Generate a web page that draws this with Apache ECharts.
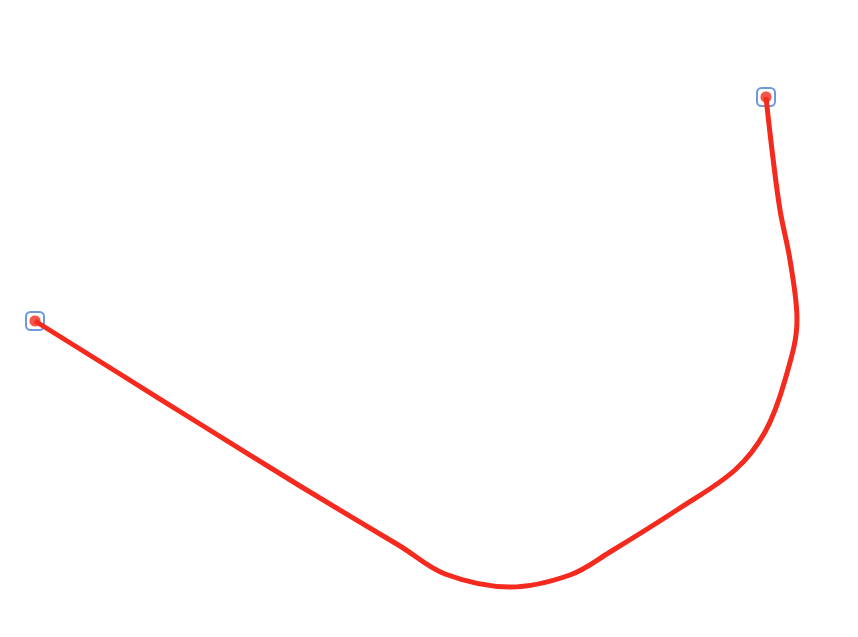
<!DOCTYPE html>
<html>
<head>
<meta charset="utf-8">
<script src="https://cdn.jsdelivr.net/npm/echarts@6/dist/echarts.min.js"></script>
<style>html,body{margin:0;padding:0;background:#fff}#chart{width:858px;height:637px}</style>
</head>
<body>
<div id="chart"></div>
<script>
// route points (pixel-like units)
var routeX = [35, 120, 200, 300, 400, 445, 510, 570, 610, 680, 735, 765, 785, 797, 790, 780, 772, 766];
var routeY = [321, 374, 424, 486, 546, 574, 587, 575, 552, 508, 470, 432, 380, 320, 260, 210, 150, 97];
var endIdx = [0, routeX.length - 1];

var route = routeX.map(function (x, i) { return [x, routeY[i]]; });
var ends = endIdx.map(function (i) { return route[i]; });

var chart = echarts.init(document.getElementById('chart'));
chart.setOption({
	animation: false,
	grid: {left: 0, right: 0, top: 0, bottom: 0},
	xAxis: {type: 'value', min: 0, max: 858, show: false},
	yAxis: {type: 'value', min: 0, max: 637, inverse: true, show: false},
	series: [
		{
			type: 'line', data: route, smooth: 0.35, showSymbol: false,
			lineStyle: {color: '#f42a1e', width: 5}
		},
		{
			type: 'scatter', data: ends, symbol: 'roundRect', symbolSize: 18,
			itemStyle: {color: '#ffffff', borderColor: '#4a7fd6', borderWidth: 2}
		},
		{
			type: 'scatter', data: ends, symbol: 'circle', symbolSize: 12,
			itemStyle: {color: '#f42a1e', borderColor: '#ffffff', borderWidth: 1}
		}
	]
});
</script>
</body>
</html>
